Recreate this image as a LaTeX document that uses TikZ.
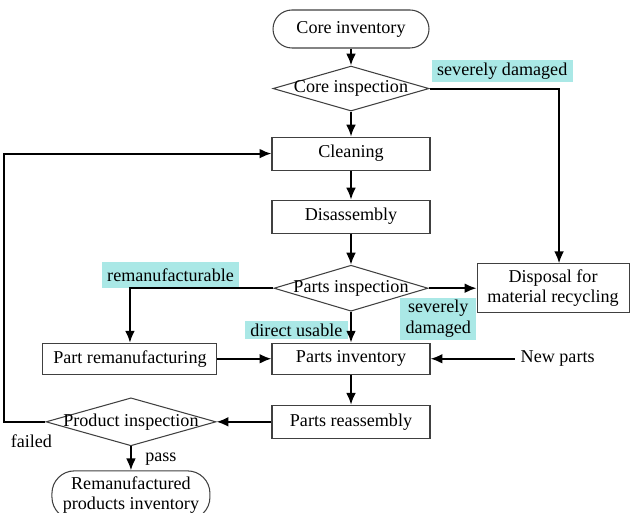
\documentclass[tikz,border=0pt]{standalone}
\usepackage{fontspec}
\setmainfont{Liberation Serif}
\usetikzlibrary{shapes,arrows.meta,positioning}
\definecolor{tagcyan}{RGB}{170,232,230}
\tikzstyle{block} = [rectangle, draw=black!75, line width=0.6pt,
    minimum width=3.16cm, minimum height=0.66cm, text centered, align=center]
\tikzstyle{terminal} = [block, rounded corners=0.38cm]
\tikzstyle{decision} = [diamond, draw=black!75, line width=0.6pt, inner sep=0pt]
\tikzstyle{tag} = [fill=tagcyan, inner xsep=3pt, inner ysep=1.5pt, align=center]
\tikzstyle{line} = [draw, line width=1.1pt, -{Latex[length=6.8pt,width=5.6pt]}]

\begin{document}
\begin{tikzpicture}[font=\fontsize{10.3}{11.6}\selectfont]
		\useasboundingbox (0,0) rectangle (12.62,-10.26);
		% Draw nodes
		\node [terminal, minimum width=3.12cm, minimum height=0.76cm] (coreinv) at (7.02,-0.58) {Core inventory};
		\node [decision, below=0.34cm of coreinv, minimum width=3.12cm, minimum height=0.9cm,
		       label=center:Core inspection] (coreinsp) {};
		\node [block, below=0.5cm of coreinsp] (cleaning) {Cleaning};
		\node [block, below=0.58cm of cleaning] (disassembly) {Disassembly};
		\node [decision, below=0.62cm of disassembly, minimum width=3.08cm, minimum height=0.92cm,
		       label=center:Parts inspection] (partsinsp) {};
		\node [block, below=0.62cm of partsinsp, minimum height=0.62cm] (partsinv) {Parts inventory};
		\node [block, below=0.6cm of partsinv] (reassembly) {Parts reassembly};
		\node [block, left=1.08cm of partsinv, minimum width=3.48cm, minimum height=0.62cm] (partreman) {Part remanufacturing};
		\node [block, right=0.96cm of partsinsp, minimum width=3.04cm, minimum height=0.96cm] (disposal) {Disposal for\\material recycling};
		\node [right=1.68cm of partsinv] (newparts) {New parts};
		\node [decision, left=1.1cm of reassembly, minimum width=3.4cm, minimum height=0.96cm,
		       label=center:Product inspection] (prodinsp) {};
		\node [terminal, below=0.48cm of prodinsp, minimum height=0.9cm, rounded corners=0.45cm] (remanprod) {Remanufactured\\products inventory};
		% Helper coordinates
		\coordinate [left=0.82cm of prodinsp.west] (failcorner);
		% Branch labels
		\node [tag, above right=0.12cm and 0.04cm of coreinsp.east] (sdcore) {severely damaged};
		\node [tag, above left=0cm and 0.68cm of partsinsp.west, minimum height=0.52cm] (remanlabel) {remanufacturable};
		\node [tag, below left=0.18cm and 0cm of disposal.west] (sdparts) {severely\\damaged};
		\node [tag, above left=0.06cm and 0.06cm of partsinv.north] (usable) {direct usable};
		\node [inner sep=0pt, below right=0.26cm and 0.12cm of failcorner] (failed) {failed};
		\node [inner sep=0pt, below right=0.12cm and 0.28cm of prodinsp.south] (pass) {pass};
		% Draw lines connecting (arrows)
		\path [line] (coreinv) -- (coreinsp);
		\path [line] (coreinsp) -- (cleaning);
		\path [line] (cleaning) -- (disassembly);
		\path [line] (disassembly) -- (partsinsp);
		\path [line] (partsinsp) -- (partsinv);
		\path [line] (partsinv) -- (reassembly);
		\path [line] (coreinsp.east) -| ([xshift=0.12cm]disposal.north);
		\path [line] (partsinsp.east) -- (disposal.west);
		\path [line] (partsinsp.west) -| (partreman.north);
		\path [line] (partreman) -- (partsinv);
		\path [line] (newparts) -- (partsinv);
		\path [line] (reassembly) -- (prodinsp);
		\path [line] (prodinsp) -- (remanprod);
		\path [line] (prodinsp.west) -- (failcorner) |- (cleaning.west);
	\end{tikzpicture}
\end{document}
